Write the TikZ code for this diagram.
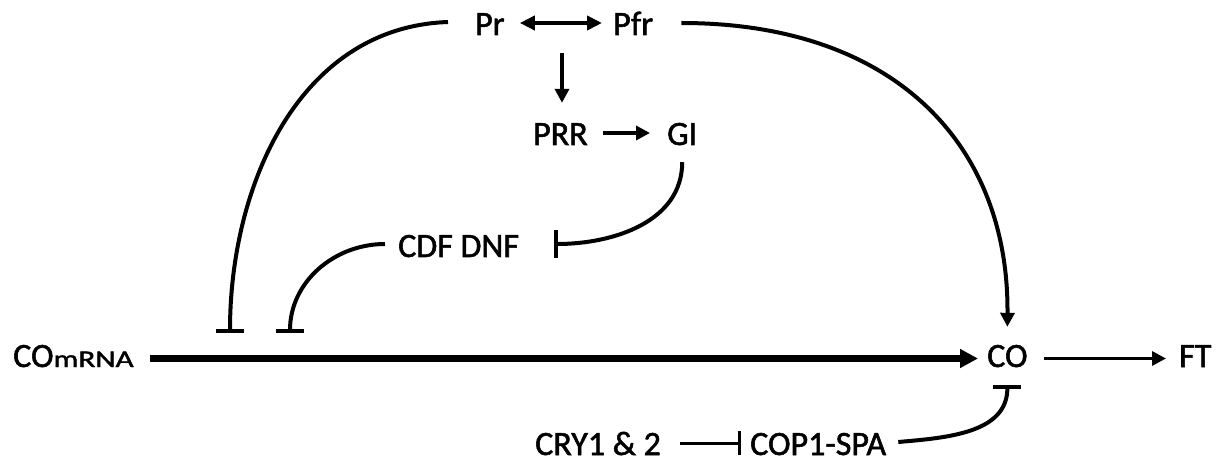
\documentclass[tikz,border=0pt]{standalone}
\usepackage{fontspec}
\setmainfont{Carlito}[FakeBold=1.6]
\usetikzlibrary{arrows.meta,calc}
\begin{document}
\begin{tikzpicture}[x=1pt,y=1pt,
  lbl/.style={inner sep=0pt, text height=22pt, text depth=0pt, font=\fontsize{34}{40}\selectfont, anchor=base west},
  ln/.style={line width=4pt},
  arr/.style={ln, -{Triangle[length=14pt,width=14pt]}},
  dbl/.style={ln, {Triangle[length=15pt,width=14pt]}-{Triangle[length=15pt,width=14pt]}},
  inh/.style={ln, -{Bar[width=28pt]}},
  mainln/.style={line width=6.5pt, -{Triangle[length=18pt,width=18pt]}},
]
\useasboundingbox (0,0) rectangle (1224,-462);
% nodes
\node[lbl] (pr) at (475,-35) {Pr};
\node[lbl] (pfr) at (613,-35) {Pfr};
\node[lbl] (prr) at (533,-145) {PRR};
\node[lbl] (gi) at (667,-145) {GI};
\node[lbl] (cdf) at (398,-257) {CDF DNF};
\node[lbl] (comrna) at (13,-367) {CO\scalebox{1.3}[1]{\fontsize{24}{28}\selectfont mRNA}};
\node[lbl] (co) at (987,-367) {CO};
\node[lbl] (ft) at (1179,-367) {FT};
\node[lbl] (cry) at (535,-455) {CRY1 \& 2};
\node[lbl] (cop) at (750,-455) {COP1-SPA};
% free ends of the inhibition bars on the main line
\coordinate (b1) at (230,-333);
\coordinate (b2) at (290,-333);
\coordinate (dstart) at (562,-53);
% connectors
\draw[dbl] ([xshift=15pt,yshift=1pt]pr.east) -- ([xshift=-11pt,yshift=1pt]pfr.west);
\draw[arr] (dstart) -- ([yshift=20pt]prr.north -| dstart);
\draw[arr] ([xshift=15pt,yshift=1pt]prr.east) -- ([xshift=-17pt,yshift=1pt]gi.west);
\draw[inh] ([yshift=-17pt]gi.south) to[out=-90,in=0] ([xshift=35pt,yshift=2pt]cdf.east);
\draw[inh] ([xshift=-13pt,yshift=2pt]cdf.west) to[out=180,in=90] (b2);
\draw[inh] ([xshift=-27pt,yshift=2pt]pr.west) to[out=182,in=90] (b1);
\draw[mainln] ([xshift=16pt,yshift=-2.5pt]comrna.east) -- ([xshift=-9pt,yshift=-2.5pt]co.west);
\draw[arr] ([xshift=28pt,yshift=1pt]pfr.east) .. controls (895,-23) and (1009,-145) .. ([yshift=18pt]co.north);
\draw[ln, line width=3.2pt, -{Triangle[length=14pt,width=14pt]}] ([xshift=16pt,yshift=-2.5pt]co.east) -- ([xshift=-13pt,yshift=-2.5pt]ft.west);
\draw[inh] ([xshift=12pt,yshift=2pt]cop.east) to[out=5,in=-90] ([yshift=-18pt]co.south);
\draw[line width=3pt, -{Bar[width=24pt]}] ([xshift=19pt,yshift=1pt]cry.east) -- ([xshift=-9pt,yshift=1pt]cop.west);
\end{tikzpicture}
\end{document}
